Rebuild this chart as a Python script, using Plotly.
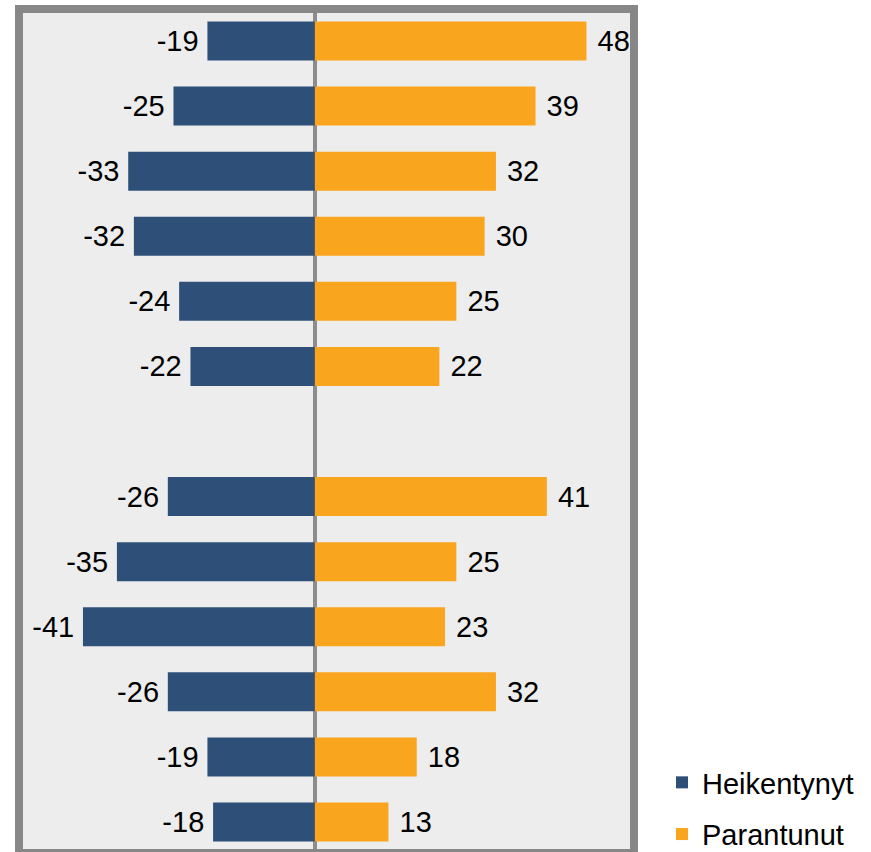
import plotly.graph_objects as go

categories = ["r1", "r2", "r3", "r4", "r5", "r6", "gap", "r7", "r8", "r9", "r10", "r11", "r12"]
heikentynyt = [-19, -25, -33, -32, -24, -22, None, -26, -35, -41, -26, -19, -18]
parantunut = [48, 39, 32, 30, 25, 22, None, 41, 25, 23, 32, 18, 13]

BLUE = "#2E5078"
ORANGE = "#F9A51E"
FONT = "Liberation Sans, Arial, sans-serif"

W, H = 871, 852
L, R, T, B = 23, 630, 13, 849

fig = go.Figure()
fig.add_trace(go.Bar(
    y=categories, x=heikentynyt, orientation="h", name="Heikentynyt",
    marker=dict(color=BLUE, line=dict(width=0)), width=0.6,
    text=[(str(v) + "\u2009") if v is not None else "" for v in heikentynyt],
    textposition="outside", constraintext="none", cliponaxis=False,
    textfont=dict(size=29, color="black", family=FONT),
    legendgroup="a",
))
fig.add_trace(go.Bar(
    y=categories, x=parantunut, orientation="h", name="Parantunut",
    marker=dict(color=ORANGE, line=dict(width=0)), width=0.6,
    text=[(" " + str(v)) if v is not None else "" for v in parantunut],
    textposition="outside", constraintext="none", cliponaxis=False,
    textfont=dict(size=29, color="black", family=FONT),
    legendgroup="b",
))

pw = R - L
ph = B - T
bw = 8
fig.add_shape(type="rect", xref="paper", yref="paper",
              x0=-(bw / 2) / pw, x1=1 + (bw / 2) / pw,
              y0=-(bw / 2) / ph, y1=1 + (bw / 2) / ph,
              line=dict(color="#878787", width=bw), layer="above")

fig.update_layout(
    width=W, height=H,
    margin=dict(l=L, r=W - R, t=T, b=H - B, pad=0, autoexpand=False),
    paper_bgcolor="white", plot_bgcolor="#EDEDED",
    barmode="overlay",
    font=dict(family=FONT, size=28, color="black"),
    showlegend=True,
    legend=dict(x=(662 - L) / pw, xanchor="left", y=1 - (757 - T) / ph, yanchor="top",
                font=dict(size=29, family=FONT, color="black"),
                tracegroupgap=11, bgcolor="rgba(0,0,0,0)"),
    xaxis=dict(range=[-51.6, 55.7], showgrid=False, showticklabels=False, ticks="",
               zeroline=True, zerolinecolor="#8C8C8C", zerolinewidth=4, layer="above traces"),
    yaxis=dict(type="category", categoryorder="array", categoryarray=categories,
               range=[12.415, -0.43], showgrid=False, showticklabels=False, ticks="",
               zeroline=False),
)

fig.write_html("out.html")
